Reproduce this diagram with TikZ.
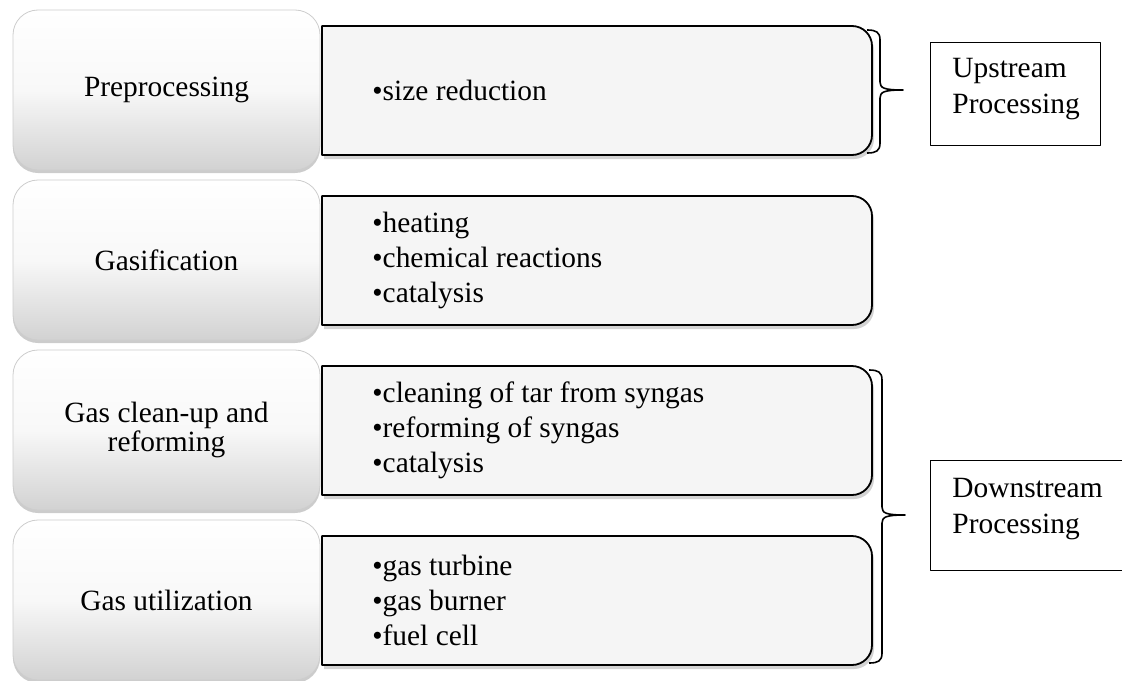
\documentclass[tikz,border=0pt]{standalone}
\usepackage{fontspec}
\setmainfont{Liberation Serif}
\usepackage{tikz}
\usetikzlibrary{shadows}
\definecolor{list_fill}{RGB}{245,245,245}
\definecolor{stage_edge}{RGB}{205,205,205}
\definecolor{stage_mid}{RGB}{248,248,248}
\definecolor{stage_bot}{RGB}{210,210,210}

\begin{document}
\begin{tikzpicture}[x=0.5pt,y=-0.5pt,line join=round]
    \tikzstyle{stage}=[draw=stage_edge, rounded corners=12.5pt, minimum width=153.5pt, minimum height=80pt, top color=white, bottom color=stage_bot, middle color=stage_mid, align=center, text=black, font=\fontsize{14.7}{14.5}\selectfont, drop shadow={opacity=0.4, shadow xshift=0pt, shadow yshift=-1.5pt}]
    \tikzstyle{listbox}=[draw=black, line width=0.9pt, fill=list_fill, drop shadow={opacity=0.35, shadow xshift=1pt, shadow yshift=-2pt}]
    \tikzstyle{items}=[anchor=west, inner sep=0pt, align=left, text=black, font=\fontsize{14.7}{17.5}\selectfont]
    \tikzstyle{tagbox}=[draw=black, line width=0.5pt, fill=white, inner sep=0pt]
    \tikzstyle{tagtext}=[anchor=north west, inner sep=0pt, align=left, text=black, font=\fontsize{14.7}{18}\selectfont]
    \tikzstyle{curly}=[draw=black, line width=0.8pt]

    \useasboundingbox (0,0) rectangle (1122,680);

    \foreach \t in {26,196,366,536}
      \draw[listbox] (322,\t) -- (852,\t) .. controls (863,\t) and (872,\t+9) .. (872,\t+20)
        -- (872,\t+109) .. controls (872,\t+120) and (863,\t+129) .. (852,\t+129)
        -- (322,\t+129) -- cycle;

    \node[stage] (pre)   at (166.5,90)  {Preprocessing};
    \node[stage] (gasif) at (166.5,260) {Gasification};
    \node[stage] (clean) at (166.5,430) {Gas clean-up and\\reforming};
    \node[stage] (util)  at (166.5,600) {Gas utilization};

    \node[items] (pre_list)   at (372,90.5)  {•size reduction};
    \node[items] (gasif_list) at (372,260.5) {•heating\\•chemical reactions\\•catalysis};
    \node[items] (clean_list) at (372,430.5) {•cleaning of tar from syngas\\•reforming of syngas\\•catalysis};
    \node[items] (util_list)  at (372,600.5) {•gas turbine\\•gas burner\\•fuel cell};

    \coordinate (up_tip)   at (903,90);
    \coordinate (down_tip) at (905,515);
    \draw[curly] (867,30) .. controls (876,30) and (880,32) .. (880,40) -- (880,82)
      .. controls (880,88) and (884,90) .. (up_tip)
      .. controls (884,90) and (880,92) .. (880,98) -- (880,143)
      .. controls (880,151) and (876,153) .. (867,153);
    \draw[curly] (869,370) .. controls (878,370) and (882,372) .. (882,380) -- (882,507)
      .. controls (882,513) and (886,515) .. (down_tip)
      .. controls (886,515) and (882,517) .. (882,523) -- (882,653)
      .. controls (882,661) and (878,663) .. (869,663);

    \node[tagbox, minimum width=85pt, minimum height=51.5pt] (up) at (1015,93.5) {};
    \node[tagtext] (up_text) at (952,58) {Upstream\\Processing};
    \node[tagbox, minimum width=100pt, minimum height=55pt] (down) at (1030,515) {};
    \node[tagtext] (down_text) at (952,477.5) {Downstream\\Processing};
\end{tikzpicture}
\end{document}
